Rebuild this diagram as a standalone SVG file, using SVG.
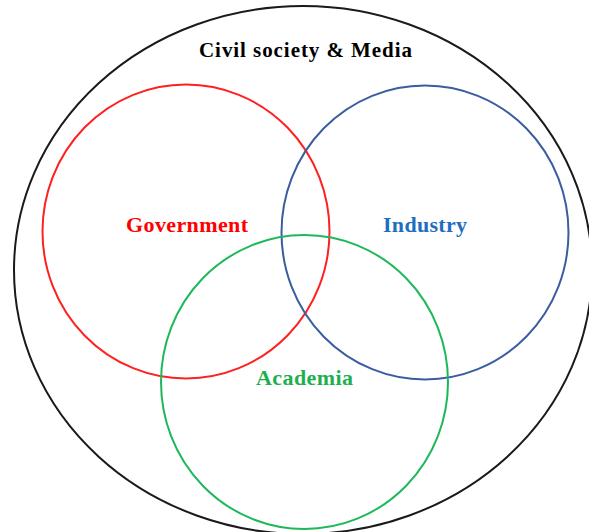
<svg xmlns="http://www.w3.org/2000/svg" width="589" height="532" viewBox="0 0 589 532">
<style>
.c{fill:none;stroke-width:2}
.t{font-family:"Liberation Serif","Times New Roman",serif;font-weight:bold;text-anchor:start}
</style>
<rect width="589" height="532" fill="#ffffff"/>
<g id="civil-society-media">
<ellipse class="c" cx="303" cy="270" rx="289" ry="264" stroke="#1a1a1a"/>
<text class="t" x="199" y="57" font-size="21" fill="#000000" textLength="213" lengthAdjust="spacing">Civil society &amp; Media</text>
</g>
<g id="government">
<ellipse class="c" cx="186" cy="231.5" rx="143.5" ry="147" stroke="#ff2020"/>
<text class="t" x="126" y="232" font-size="22" fill="#ff0000" textLength="122" lengthAdjust="spacing">Government</text>
</g>
<g id="industry">
<ellipse class="c" cx="425" cy="232.5" rx="143.5" ry="147" stroke="#3a5da0"/>
<text class="t" x="383" y="232" font-size="22" fill="#1f6fc0" textLength="84" lengthAdjust="spacing">Industry</text>
</g>
<g id="academia">
<ellipse class="c" cx="304.5" cy="382" rx="143.5" ry="147" stroke="#1eb85a"/>
<text class="t" x="256" y="385" font-size="22" fill="#1eb050" textLength="97" lengthAdjust="spacing">Academia</text>
</g>
<g id="connectors"/>
</svg>
